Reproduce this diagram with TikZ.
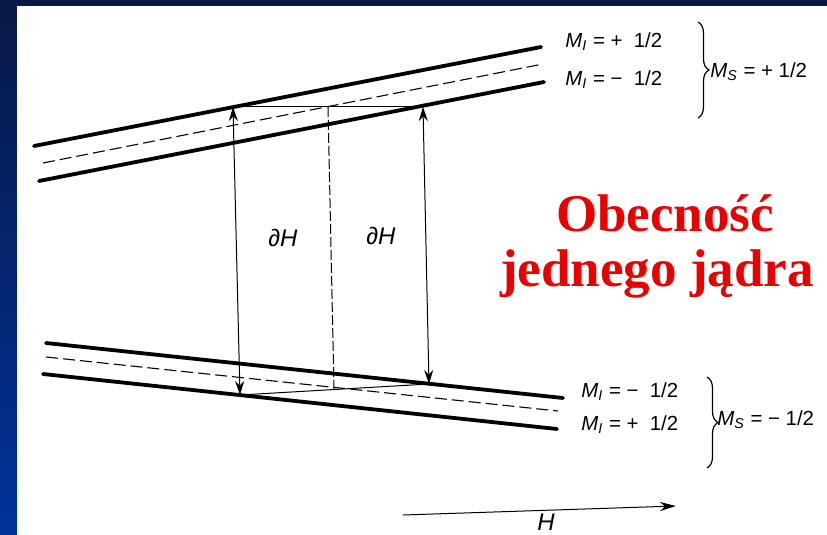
\documentclass[tikz,border=0pt]{standalone}
\usepackage{fontspec}
\setmainfont{Liberation Serif}
\newfontfamily\lblfont{Liberation Sans}
\usetikzlibrary{arrows.meta,decorations.pathreplacing,calc}
\definecolor{frametop}{RGB}{8,24,70}
\definecolor{framebot}{RGB}{0,51,153}
\definecolor{notered}{RGB}{235,0,0}
\newcommand{\Mlev}[1]{\textit{M}\textsubscript{\textit{#1}}}

\begin{document}
\begin{tikzpicture}[
  x=0.5pt,y=-0.5pt,
  >={Stealth[length=7pt,width=4.5pt]},
  level/.style={line width=1.9pt,line cap=round},
  midlevel/.style={line width=0.55pt,dash pattern=on 6pt off 2.5pt},
  guide/.style={line width=0.5pt},
  lbl/.style={font=\lblfont\fontsize{10.2}{11}\selectfont,anchor=west,inner sep=0pt},
  sym/.style={font=\lblfont\fontsize{12}{13}\selectfont,inner sep=0pt},
  brc/.style={decorate,decoration={brace,amplitude=5.5pt},line width=0.6pt},
  note/.style={font=\bfseries\fontsize{26.5}{27.5}\selectfont,text=notered,anchor=base,inner sep=0pt},
]
\useasboundingbox (0,0) rectangle (827,535);
\shade[top color=frametop,bottom color=framebot] (0,0) rectangle (827,535);
\fill[white] (17,6) rectangle (827,535);

% energy levels, M_S = +1/2
\coordinate (ua1) at (34,146); \coordinate (ua2) at (541,47);
\coordinate (um1) at (43,163); \coordinate (um2) at (543,64);
\coordinate (ub1) at (39,181); \coordinate (ub2) at (544,82);
\draw[level] (ua1) -- (ua2);
\draw[midlevel] (um1) -- (um2);
\draw[level] (ub1) -- (ub2);

% energy levels, M_S = -1/2
\coordinate (la1) at (46,343); \coordinate (la2) at (563,398);
\coordinate (lm1) at (46,357); \coordinate (lm2) at (558,411);
\coordinate (lb1) at (43,374); \coordinate (lb2) at (557,429);
\draw[level] (la1) -- (la2);
\draw[midlevel] (lm1) -- (lm2);
\draw[level] (lb1) -- (lb2);

% transitions
\coordinate (p1) at (233,107); \coordinate (p2) at (423,107);
\coordinate (q1) at (240,395); \coordinate (q2) at (429,384);
\coordinate (pm) at (328,107); \coordinate (qm) at (334,389.5);
\draw[guide] (p1) -- (p2);
\draw[guide] (q1) -- (q2);
\draw[guide,<->] (p1) -- (q1);
\draw[guide,<->] (p2) -- (q2);
\draw[guide,dash pattern=on 5pt off 1.5pt] (pm) -- (qm);
\node[sym] (dh1) at (283,238) {\textit{∂H}};
\node[sym] (dh2) at (381,236) {\textit{∂H}};

% labels
\node[lbl] (mu1) at (565,42) {\Mlev{I} = +\ \ 1/2};
\node[lbl] (mu2) at (565,80) {\Mlev{I} = −\ \ 1/2};
\node[lbl] (ml1) at (581,392) {\Mlev{I} = −\ \ 1/2};
\node[lbl] (ml2) at (581,425) {\Mlev{I} = +\ \ 1/2};
\draw[brc] (698,22) -- (698,118);
\draw[brc] (707,377) -- (707,468);
\node[lbl] (msu) at (710,72) {\Mlev{S} = +\ 1/2};
\node[lbl] (msl) at (717,420) {\Mlev{S} = −\ 1/2};

% field axis
\coordinate (h1) at (403,515); \coordinate (h2) at (676,506);
\draw[guide,-{Stealth[length=8pt,width=4.5pt]}] (h1) -- (h2);
\node[sym] (hl) at (546,522) {\textit{H}};

\node[note] (obec) at (665,232) {Obecność};
\node[note] (jadro) at (657,287) {jednego jądra};
\end{tikzpicture}
\end{document}
